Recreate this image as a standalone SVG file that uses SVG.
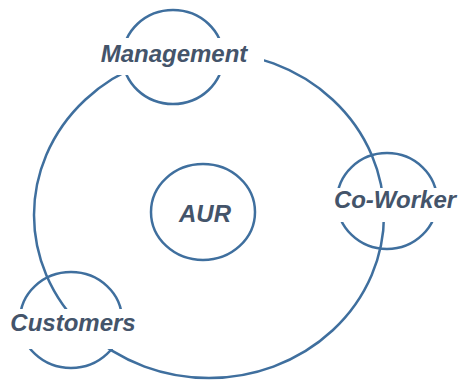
<svg xmlns="http://www.w3.org/2000/svg" width="458" height="381" viewBox="0 0 458 381">
  <style>
    .ring { fill: none; stroke: #3f6f9e; stroke-width: 2.5; }
    .pad { fill: #ffffff; stroke: none; }
    .label { font-family: "Liberation Sans", Arial, sans-serif; font-size: 24px; font-weight: bold; font-style: italic; fill: #44546a; text-anchor: middle; }
  </style>
  <rect width="458" height="381" fill="#ffffff"/>

  <!-- outer cycle joining the stakeholders -->
  <g id="connectors">
    <ellipse class="ring" cx="209" cy="215" rx="175" ry="163"/>
  </g>

  <g id="node-aur">
    <ellipse class="ring" cx="203" cy="212" rx="52" ry="48"/>
    <text class="label" x="205" y="222">AUR</text>
  </g>

  <g id="node-management">
    <ellipse class="ring" cx="173" cy="57" rx="50" ry="47"/>
    <rect class="pad" x="88" y="38" width="176" height="37"/>
    <text class="label" x="174" y="62">Management</text>
  </g>

  <g id="node-coworker">
    <ellipse class="ring" cx="387" cy="201" rx="50" ry="48"/>
    <rect class="pad" x="328" y="188" width="130" height="34"/>
    <text class="label" x="395" y="208">Co-Worker</text>
  </g>

  <g id="node-customers">
    <ellipse class="ring" cx="71" cy="320" rx="51" ry="48"/>
    <rect class="pad" x="4" y="309" width="138" height="40"/>
    <text class="label" x="73" y="331">Customers</text>
  </g>
</svg>
